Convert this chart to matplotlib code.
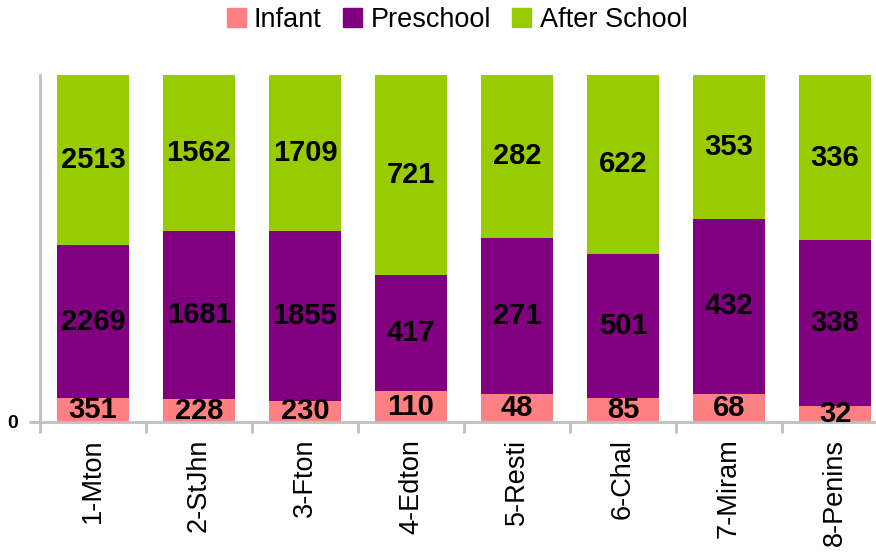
import numpy as np
import matplotlib
matplotlib.use("Agg")
import matplotlib.pyplot as plt
from matplotlib.patches import Patch

plt.rcParams["font.family"] = ["Liberation Sans", "DejaVu Sans"]

centres = ["1-Mton", "2-StJhn", "3-Fton", "4-Edton", "5-Resti", "6-Chal", "7-Miram", "8-Penins"]
infant = [351, 228, 230, 110, 48, 85, 68, 32]
preschool = [2269, 1681, 1855, 417, 271, 501, 432, 338]
after_school = [2513, 1562, 1709, 721, 282, 622, 353, 336]

series = [("Infant", infant, "#FF8080"),
          ("Preschool", preschool, "#800080"),
          ("After School", after_school, "#99CC00")]

tot = np.array(infant) + np.array(preschool) + np.array(after_school)
x = np.arange(len(centres))

fig = plt.figure(figsize=(8.76, 5.56), dpi=100)
ax = fig.add_axes([40/876, 134/556, 848/876, 347/556])

bottom = np.zeros(len(centres))
for name, vals, col in series:
    frac = np.array(vals) / tot
    ax.bar(x, frac, 0.67, bottom=bottom, color=col, label=name)
    for xi, b, f, v in zip(x, bottom, frac, vals):
        ax.text(xi, b + f / 2, f"{v}", ha="center", va="center",
                fontsize=21, fontweight="bold", color="black")
    bottom += frac

ax.set_xlim(-0.5, len(centres) - 0.5)
ax.set_ylim(0, 1)
ax.set_yticks([0])
ax.set_yticklabels(["0"], fontsize=14, fontweight="bold")
ax.set_xticks(x)
ax.set_xticklabels(centres, rotation=90, fontsize=19.5)
ax.set_xticks(np.arange(len(centres) + 1) - 0.5, minor=True)
ax.tick_params(axis="x", which="major", length=0, pad=12)
ax.tick_params(axis="x", which="minor", length=8, width=2, color="#BFBFBF")
ax.tick_params(axis="y", length=8, width=2, color="#BFBFBF", pad=8)
for s in ["top", "right"]:
    ax.spines[s].set_visible(False)
for s in ["left", "bottom"]:
    ax.spines[s].set_color("#BFBFBF")
    ax.spines[s].set_linewidth(2)

handles = [Patch(color=c, label=n) for n, _, c in series]
fig.legend(handles=handles, loc="center", bbox_to_anchor=(457/876, 1 - 20/556),
           ncol=3, frameon=False, fontsize=19.5, handlelength=0.7, handleheight=0.75,
           handletextpad=0.3, columnspacing=0.8)

fig.savefig("out.png", dpi=100)
